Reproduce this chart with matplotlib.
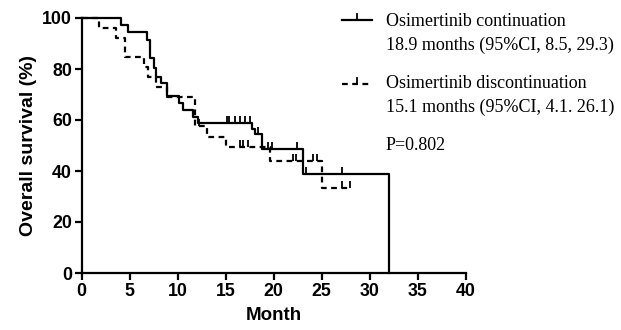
import numpy as np
import matplotlib
matplotlib.use('Agg')
from matplotlib import pyplot as plt

# step points (month, % surviving)
cont_t = [0, 4.1, 4.8, 6.8, 7.1, 7.5, 7.7, 8.3, 8.9, 10.1, 10.6, 11.6, 12.1, 17.7, 18.1, 18.8, 23.1, 32.0]
cont_s = [100, 97.4, 94.7, 91.4, 84.2, 80.3, 77.0, 74.4, 69.5, 66.5, 64.0, 61.0, 58.7, 56.3, 54.7, 48.5, 38.8, 0]
cont_cens = [15.1, 15.3, 16.0, 16.5, 17.0, 17.5, 18.4, 19.4, 19.8, 22.4, 23.4, 27.1]

disc_t = [0, 1.8, 3.6, 4.5, 6.5, 6.9, 7.7, 8.9, 11.8, 13.0, 15.0, 19.6, 25.0, 27.9]
disc_s = [100, 96.2, 92.3, 84.6, 80.8, 76.9, 73.1, 69.2, 57.7, 53.3, 49.6, 44.1, 33.2, 33.2]
disc_cens = [12.2, 16.5, 16.8, 17.3, 22.0, 22.3, 24.1, 24.5, 27.1, 27.9]

labels = ['Osimertinib continuation', '18.9 months (95%CI, 8.5, 29.3)',
          'Osimertinib discontinuation', '15.1 months (95%CI, 4.1. 26.1)']
p_text = 'P=0.802'

W, H = 621, 330
fig = plt.figure(figsize=(W / 100, H / 100), dpi=100)
ax = fig.add_axes([81.7 / W, 57 / H, 384 / W, 255 / H])

tick = [(0, 0), (0, 1)]  # upward censor tick


def surv_at(t, s, x):
    i = np.searchsorted(t, x, side='right') - 1
    return np.array(s)[i]


dash = (0, (2.6, 2.0))
ax.step(cont_t, cont_s, where='post', color='black', lw=1.6, clip_on=False)
ax.plot(cont_cens, surv_at(cont_t, cont_s, cont_cens), ls='none', marker=tick,
        ms=10, mew=1.3, color='black', clip_on=False)
ax.step(disc_t, disc_s, where='post', color='black', lw=1.6, ls=dash, clip_on=False)
ax.plot(disc_cens, surv_at(disc_t, disc_s, disc_cens), ls='none', marker=tick,
        ms=10, mew=1.3, color='black', clip_on=False)

ax.set_xlim(0, 40)
ax.set_ylim(0, 100)
ax.set_xticks(range(0, 41, 5))
ax.set_yticks(range(0, 101, 20))
for side in ['top', 'right']:
    ax.spines[side].set_visible(False)
for side in ['left', 'bottom']:
    ax.spines[side].set_linewidth(1.6)
ax.tick_params(direction='out', length=5, width=1.6, pad=2)
for lab in ax.get_xticklabels() + ax.get_yticklabels():
    lab.set_fontfamily('Liberation Sans')
    lab.set_fontweight('bold')
    lab.set_fontsize(12.8)
ax.set_xlabel('Month', fontfamily='Liberation Sans', fontweight='bold', fontsize=13.5, labelpad=5)
ax.set_ylabel('Overall survival (%)', fontfamily='Liberation Sans', fontweight='bold',
              fontsize=14, labelpad=4)

# legend drawn in pixel coordinates on an overlay
lg = fig.add_axes([0, 0, 1, 1])
lg.set_xlim(0, W)
lg.set_ylim(H, 0)
lg.axis('off')
lg.plot([342, 372], [20, 20], color='black', lw=1.6)
lg.plot([357, 357], [20, 14], color='black', lw=1.3)
lg.plot([342, 372], [84, 84], color='black', lw=1.6, ls=dash)
lg.plot([357, 357], [84, 78], color='black', lw=1.3)
serif = dict(fontfamily='Liberation Serif', fontsize=13, va='center', ha='left')
for y, txt in zip([22, 45, 84, 107], labels):
    lg.text(386, y, txt, **serif)
lg.text(386, 145, p_text, **serif)

fig.savefig('out.png', dpi=100)
